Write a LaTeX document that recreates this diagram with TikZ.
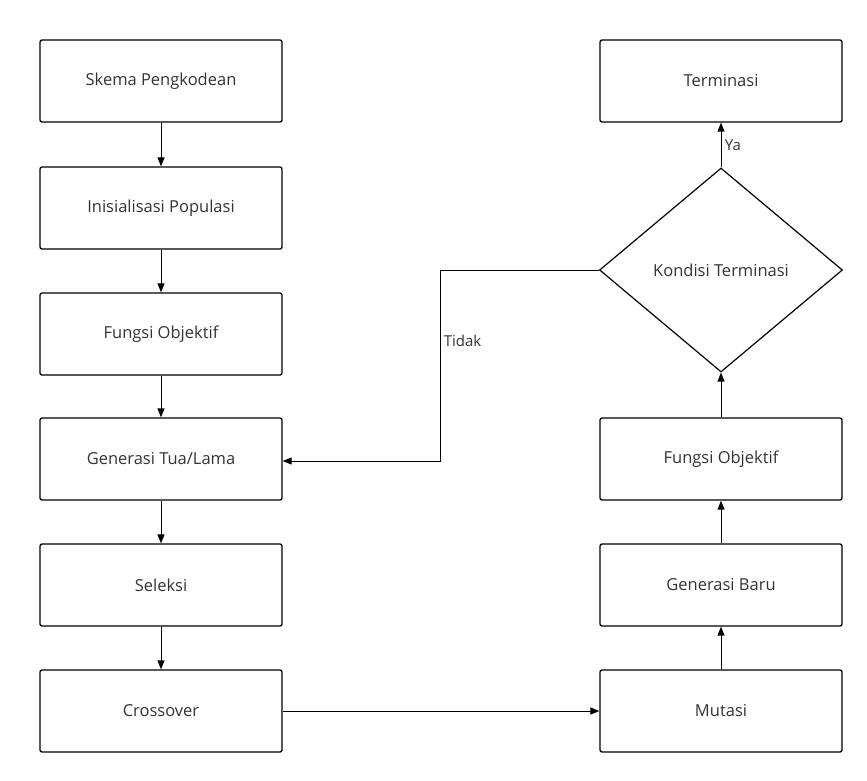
\documentclass[tikz,border=0pt]{standalone}
\usepackage{fontspec}
\setmainfont{Open Sans}
\usetikzlibrary{shapes.geometric,arrows.meta}
\begin{document}
\begin{tikzpicture}[x=1pt,y=-1pt,
  box/.style={draw, line width=1.3pt, rounded corners=2pt, minimum width=242pt, minimum height=82pt, inner sep=0pt, font=\fontsize{16.5}{19}\selectfont, text=black!80},
  dec/.style={draw, line width=1.2pt, diamond, aspect=1.19, minimum width=243pt, minimum height=204pt, inner sep=0pt, font=\fontsize{16.5}{19}\selectfont, text=black!80},
  arr/.style={draw, line width=1pt, -{Triangle[length=9pt,width=7pt]}},
  lbl/.style={font=\fontsize{15}{17}\selectfont, text=black!80}]
\useasboundingbox (0,0) rectangle (867,780);
\node[box] (skema) at (161,81) {Skema Pengkodean};
\node[box] (init) at (161,208) {Inisialisasi Populasi};
\node[box] (fobj1) at (161,334) {Fungsi Objektif};
\node[box] (gtua) at (161,459) {Generasi Tua/Lama};
\node[box] (sel) at (161,585) {Seleksi};
\node[box] (cross) at (161,711) {Crossover};
\node[box] (term) at (721,81) {Terminasi};
\node[dec] (kond) at (721,270) {Kondisi Terminasi};
\node[box] (fobj2) at (721,459) {Fungsi Objektif};
\node[box] (gbaru) at (721,585) {Generasi Baru};
\node[box] (mut) at (721,711) {Mutasi};
\coordinate (c1) at (440,270);
\coordinate (c2) at (440,461);
\draw[arr] (skema) -- (init);
\draw[arr] (init) -- (fobj1);
\draw[arr] (fobj1) -- (gtua);
\draw[arr] (gtua) -- (sel);
\draw[arr] (sel) -- (cross);
\draw[arr] (cross) -- (mut);
\draw[arr] (mut) -- (gbaru);
\draw[arr] (gbaru) -- (fobj2);
\draw[arr] (fobj2) -- (kond);
\draw[arr] (kond) -- node[lbl, right, pos=0.5] {Ya} (term);
\draw[arr] (kond.west) -- (c1) -- node[lbl, right, pos=0.37] {Tidak} (c2) -- (gtua.east |- c2);
\end{tikzpicture}
\end{document}
